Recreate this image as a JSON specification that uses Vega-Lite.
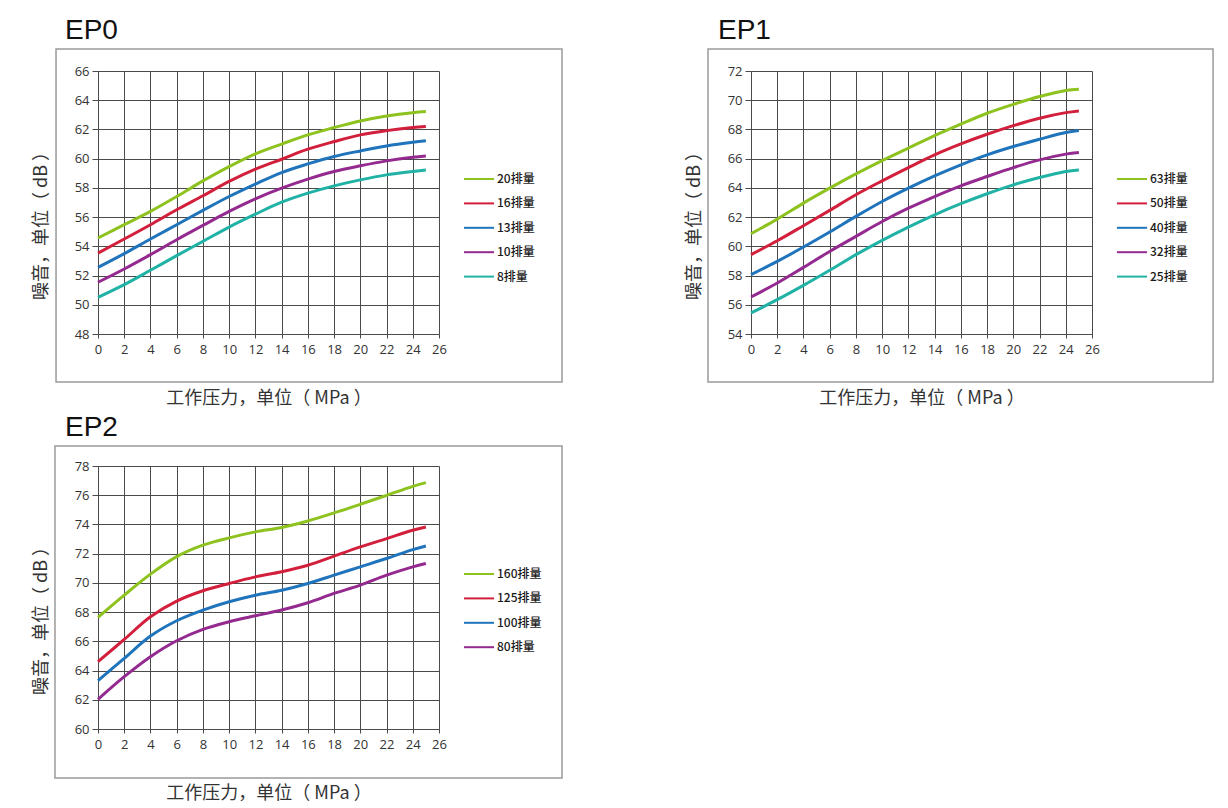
{
  "$schema": "https://vega.github.io/schema/vega-lite/v6.json",
  "autosize": {"type": "none"},
  "padding": {"left": 98, "top": 71, "right": 1130, "bottom": 737},
  "background": "white",
  "bounds": "flush",
  "columns": 2,
  "spacing": {"row": 132, "column": 312},
  "resolve": {"scale": {"color": "independent", "x": "independent", "y": "independent"}, "legend": {"color": "independent"}},
  "config": {
    "font": "Noto Sans CJK SC",
    "view": {"stroke": null},
    "title": {"font": "Liberation Sans", "fontSize": 28, "fontWeight": "normal", "color": "#111111", "anchor": "start", "frame": "group", "dx": -33, "offset": 3},
    "axis": {"grid": true, "gridColor": "#4a4a4a", "gridWidth": 1, "gridOpacity": 1, "domainColor": "#4a4a4a", "tickColor": "#4a4a4a", "labelFont": "Open Sans", "labelFontSize": 13, "labelColor": "#333333", "titleFont": "Noto Sans CJK SC", "titleFontSize": 18, "titleFontWeight": "normal", "titleColor": "#333333", "labelFlush": false, "labelOverlap": false}
  },
  "datasets": {
    "ep0": [
      {"pressure": 0, "noise": 54.57, "series": "20排量"}, {"pressure": 2, "noise": 55.48, "series": "20排量"}, {"pressure": 4, "noise": 56.39, "series": "20排量"}, {"pressure": 6, "noise": 57.41, "series": "20排量"}, {"pressure": 8, "noise": 58.48, "series": "20排量"}, {"pressure": 10, "noise": 59.46, "series": "20排量"}, {"pressure": 12, "noise": 60.33, "series": "20排量"}, {"pressure": 14, "noise": 61.0, "series": "20排量"}, {"pressure": 16, "noise": 61.63, "series": "20排量"}, {"pressure": 18, "noise": 62.13, "series": "20排量"}, {"pressure": 20, "noise": 62.58, "series": "20排量"}, {"pressure": 22, "noise": 62.92, "series": "20排量"}, {"pressure": 24, "noise": 63.15, "series": "20排量"}, {"pressure": 25, "noise": 63.22, "series": "20排量"},
      {"pressure": 0, "noise": 53.54, "series": "16排量"}, {"pressure": 2, "noise": 54.5, "series": "16排量"}, {"pressure": 4, "noise": 55.48, "series": "16排量"}, {"pressure": 6, "noise": 56.5, "series": "16排量"}, {"pressure": 8, "noise": 57.46, "series": "16排量"}, {"pressure": 10, "noise": 58.44, "series": "16排量"}, {"pressure": 12, "noise": 59.28, "series": "16排量"}, {"pressure": 14, "noise": 59.96, "series": "16排量"}, {"pressure": 16, "noise": 60.65, "series": "16排量"}, {"pressure": 18, "noise": 61.17, "series": "16排量"}, {"pressure": 20, "noise": 61.63, "series": "16排量"}, {"pressure": 22, "noise": 61.92, "series": "16排量"}, {"pressure": 24, "noise": 62.13, "series": "16排量"}, {"pressure": 25, "noise": 62.2, "series": "16排量"},
      {"pressure": 0, "noise": 52.56, "series": "13排量"}, {"pressure": 2, "noise": 53.5, "series": "13排量"}, {"pressure": 4, "noise": 54.5, "series": "13排量"}, {"pressure": 6, "noise": 55.48, "series": "13排量"}, {"pressure": 8, "noise": 56.46, "series": "13排量"}, {"pressure": 10, "noise": 57.41, "series": "13排量"}, {"pressure": 12, "noise": 58.26, "series": "13排量"}, {"pressure": 14, "noise": 59.05, "series": "13排量"}, {"pressure": 16, "noise": 59.64, "series": "13排量"}, {"pressure": 18, "noise": 60.15, "series": "13排量"}, {"pressure": 20, "noise": 60.53, "series": "13排量"}, {"pressure": 22, "noise": 60.87, "series": "13排量"}, {"pressure": 24, "noise": 61.12, "series": "13排量"}, {"pressure": 25, "noise": 61.22, "series": "13排量"},
      {"pressure": 0, "noise": 51.54, "series": "10排量"}, {"pressure": 2, "noise": 52.45, "series": "10排量"}, {"pressure": 4, "noise": 53.43, "series": "10排量"}, {"pressure": 6, "noise": 54.45, "series": "10排量"}, {"pressure": 8, "noise": 55.43, "series": "10排量"}, {"pressure": 10, "noise": 56.39, "series": "10排量"}, {"pressure": 12, "noise": 57.25, "series": "10排量"}, {"pressure": 14, "noise": 57.98, "series": "10排量"}, {"pressure": 16, "noise": 58.6, "series": "10排量"}, {"pressure": 18, "noise": 59.12, "series": "10排量"}, {"pressure": 20, "noise": 59.51, "series": "10排量"}, {"pressure": 22, "noise": 59.85, "series": "10排量"}, {"pressure": 24, "noise": 60.1, "series": "10排量"}, {"pressure": 25, "noise": 60.19, "series": "10排量"},
      {"pressure": 0, "noise": 50.51, "series": "8排量"}, {"pressure": 2, "noise": 51.38, "series": "8排量"}, {"pressure": 4, "noise": 52.36, "series": "8排量"}, {"pressure": 6, "noise": 53.36, "series": "8排量"}, {"pressure": 8, "noise": 54.34, "series": "8排量"}, {"pressure": 10, "noise": 55.32, "series": "8排量"}, {"pressure": 12, "noise": 56.2, "series": "8排量"}, {"pressure": 14, "noise": 57.02, "series": "8排量"}, {"pressure": 16, "noise": 57.64, "series": "8排量"}, {"pressure": 18, "noise": 58.14, "series": "8排量"}, {"pressure": 20, "noise": 58.55, "series": "8排量"}, {"pressure": 22, "noise": 58.89, "series": "8排量"}, {"pressure": 24, "noise": 59.12, "series": "8排量"}, {"pressure": 25, "noise": 59.23, "series": "8排量"}
    ],
    "ep1": [
      {"pressure": 0, "noise": 60.86, "series": "63排量"}, {"pressure": 2, "noise": 61.86, "series": "63排量"}, {"pressure": 4, "noise": 62.96, "series": "63排量"}, {"pressure": 6, "noise": 63.98, "series": "63排量"}, {"pressure": 8, "noise": 64.96, "series": "63排量"}, {"pressure": 10, "noise": 65.87, "series": "63排量"}, {"pressure": 12, "noise": 66.72, "series": "63排量"}, {"pressure": 14, "noise": 67.58, "series": "63排量"}, {"pressure": 16, "noise": 68.36, "series": "63排量"}, {"pressure": 18, "noise": 69.11, "series": "63排量"}, {"pressure": 20, "noise": 69.72, "series": "63排量"}, {"pressure": 22, "noise": 70.25, "series": "63排量"}, {"pressure": 24, "noise": 70.66, "series": "63排量"}, {"pressure": 25, "noise": 70.75, "series": "63排量"},
      {"pressure": 0, "noise": 59.43, "series": "50排量"}, {"pressure": 2, "noise": 60.38, "series": "50排量"}, {"pressure": 4, "noise": 61.41, "series": "50排量"}, {"pressure": 6, "noise": 62.46, "series": "50排量"}, {"pressure": 8, "noise": 63.53, "series": "50排量"}, {"pressure": 10, "noise": 64.48, "series": "50排量"}, {"pressure": 12, "noise": 65.39, "series": "50排量"}, {"pressure": 14, "noise": 66.26, "series": "50排量"}, {"pressure": 16, "noise": 67.01, "series": "50排量"}, {"pressure": 18, "noise": 67.67, "series": "50排量"}, {"pressure": 20, "noise": 68.26, "series": "50排量"}, {"pressure": 22, "noise": 68.77, "series": "50排量"}, {"pressure": 24, "noise": 69.15, "series": "50排量"}, {"pressure": 25, "noise": 69.27, "series": "50排量"},
      {"pressure": 0, "noise": 58.06, "series": "40排量"}, {"pressure": 2, "noise": 58.97, "series": "40排量"}, {"pressure": 4, "noise": 59.95, "series": "40排量"}, {"pressure": 6, "noise": 60.98, "series": "40排量"}, {"pressure": 8, "noise": 62.05, "series": "40排量"}, {"pressure": 10, "noise": 63.07, "series": "40排量"}, {"pressure": 12, "noise": 63.98, "series": "40排量"}, {"pressure": 14, "noise": 64.82, "series": "40排量"}, {"pressure": 16, "noise": 65.58, "series": "40排量"}, {"pressure": 18, "noise": 66.26, "series": "40排量"}, {"pressure": 20, "noise": 66.83, "series": "40排量"}, {"pressure": 22, "noise": 67.33, "series": "40排量"}, {"pressure": 24, "noise": 67.79, "series": "40排量"}, {"pressure": 25, "noise": 67.92, "series": "40排量"},
      {"pressure": 0, "noise": 56.53, "series": "32排量"}, {"pressure": 2, "noise": 57.49, "series": "32排量"}, {"pressure": 4, "noise": 58.56, "series": "32排量"}, {"pressure": 6, "noise": 59.65, "series": "32排量"}, {"pressure": 8, "noise": 60.68, "series": "32排量"}, {"pressure": 10, "noise": 61.7, "series": "32排量"}, {"pressure": 12, "noise": 62.61, "series": "32排量"}, {"pressure": 14, "noise": 63.41, "series": "32排量"}, {"pressure": 16, "noise": 64.14, "series": "32排量"}, {"pressure": 18, "noise": 64.78, "series": "32排量"}, {"pressure": 20, "noise": 65.39, "series": "32排量"}, {"pressure": 22, "noise": 65.92, "series": "32排量"}, {"pressure": 24, "noise": 66.31, "series": "32排量"}, {"pressure": 25, "noise": 66.42, "series": "32排量"},
      {"pressure": 0, "noise": 55.44, "series": "25排量"}, {"pressure": 2, "noise": 56.35, "series": "25排量"}, {"pressure": 4, "noise": 57.33, "series": "25排量"}, {"pressure": 6, "noise": 58.36, "series": "25排量"}, {"pressure": 8, "noise": 59.43, "series": "25排量"}, {"pressure": 10, "noise": 60.41, "series": "25排量"}, {"pressure": 12, "noise": 61.32, "series": "25排量"}, {"pressure": 14, "noise": 62.16, "series": "25排量"}, {"pressure": 16, "noise": 62.92, "series": "25排量"}, {"pressure": 18, "noise": 63.6, "series": "25排量"}, {"pressure": 20, "noise": 64.21, "series": "25排量"}, {"pressure": 22, "noise": 64.71, "series": "25排量"}, {"pressure": 24, "noise": 65.12, "series": "25排量"}, {"pressure": 25, "noise": 65.23, "series": "25排量"}
    ],
    "ep2": [
      {"pressure": 0, "noise": 67.64, "series": "160排量"}, {"pressure": 2, "noise": 69.16, "series": "160排量"}, {"pressure": 4, "noise": 70.6, "series": "160排量"}, {"pressure": 6, "noise": 71.8, "series": "160排量"}, {"pressure": 8, "noise": 72.58, "series": "160排量"}, {"pressure": 10, "noise": 73.08, "series": "160排量"}, {"pressure": 12, "noise": 73.49, "series": "160排量"}, {"pressure": 14, "noise": 73.79, "series": "160排量"}, {"pressure": 16, "noise": 74.24, "series": "160排量"}, {"pressure": 18, "noise": 74.79, "series": "160排量"}, {"pressure": 20, "noise": 75.38, "series": "160排量"}, {"pressure": 22, "noise": 75.99, "series": "160排量"}, {"pressure": 24, "noise": 76.61, "series": "160排量"}, {"pressure": 25, "noise": 76.86, "series": "160排量"},
      {"pressure": 0, "noise": 64.61, "series": "125排量"}, {"pressure": 2, "noise": 66.13, "series": "125排量"}, {"pressure": 4, "noise": 67.68, "series": "125排量"}, {"pressure": 6, "noise": 68.75, "series": "125排量"}, {"pressure": 8, "noise": 69.46, "series": "125排量"}, {"pressure": 10, "noise": 69.96, "series": "125排量"}, {"pressure": 12, "noise": 70.41, "series": "125排量"}, {"pressure": 14, "noise": 70.76, "series": "125排量"}, {"pressure": 16, "noise": 71.21, "series": "125排量"}, {"pressure": 18, "noise": 71.83, "series": "125排量"}, {"pressure": 20, "noise": 72.46, "series": "125排量"}, {"pressure": 22, "noise": 73.03, "series": "125排量"}, {"pressure": 24, "noise": 73.6, "series": "125排量"}, {"pressure": 25, "noise": 73.83, "series": "125排量"},
      {"pressure": 0, "noise": 63.31, "series": "100排量"}, {"pressure": 2, "noise": 64.83, "series": "100排量"}, {"pressure": 4, "noise": 66.36, "series": "100排量"}, {"pressure": 6, "noise": 67.41, "series": "100排量"}, {"pressure": 8, "noise": 68.14, "series": "100排量"}, {"pressure": 10, "noise": 68.71, "series": "100排量"}, {"pressure": 12, "noise": 69.16, "series": "100排量"}, {"pressure": 14, "noise": 69.5, "series": "100排量"}, {"pressure": 16, "noise": 69.96, "series": "100排量"}, {"pressure": 18, "noise": 70.53, "series": "100排量"}, {"pressure": 20, "noise": 71.1, "series": "100排量"}, {"pressure": 22, "noise": 71.67, "series": "100排量"}, {"pressure": 24, "noise": 72.28, "series": "100排量"}, {"pressure": 25, "noise": 72.53, "series": "100排量"},
      {"pressure": 0, "noise": 62.03, "series": "80排量"}, {"pressure": 2, "noise": 63.58, "series": "80排量"}, {"pressure": 4, "noise": 64.95, "series": "80排量"}, {"pressure": 6, "noise": 66.04, "series": "80排量"}, {"pressure": 8, "noise": 66.82, "series": "80排量"}, {"pressure": 10, "noise": 67.34, "series": "80排量"}, {"pressure": 12, "noise": 67.75, "series": "80排量"}, {"pressure": 14, "noise": 68.14, "series": "80排量"}, {"pressure": 16, "noise": 68.64, "series": "80排量"}, {"pressure": 18, "noise": 69.28, "series": "80排量"}, {"pressure": 20, "noise": 69.85, "series": "80排量"}, {"pressure": 22, "noise": 70.53, "series": "80排量"}, {"pressure": 24, "noise": 71.1, "series": "80排量"}, {"pressure": 25, "noise": 71.33, "series": "80排量"}
    ]
  },
  "concat": [
    {
      "title": {"text": "EP0"},
      "width": 341, "height": 263,
      "layer": [
        {
          "data": {"values": [{"frame": "box"}]},
          "mark": {"type": "rect", "filled": false, "stroke": "#9a9a9a", "strokeWidth": 1.5, "clip": false},
          "encoding": {
            "x": {"datum": -3.2, "type": "quantitative", "scale": {"domain": [0, 26], "nice": false, "zero": false}, "axis": {"title": "工作压力，单位（ MPa ）", "values": [0,2,4,6,8,10,12,14,16,18,20,22,24,26], "tickSize": 4, "labelPadding": 5, "titleY": 55}},
            "x2": {"datum": 35.38},
            "y": {"datum": 67.5, "type": "quantitative", "scale": {"domain": [48, 66], "nice": false, "zero": false}, "axis": {"title": "噪音，单位（ dB ）", "values": [48,50,52,54,56,58,60,62,64,66], "tickSize": 6, "labelPadding": 3, "titleX": -48, "titleY": 150}},
            "y2": {"datum": 44.71}
          }
        },
        {
          "data": {"name": "ep0"},
          "mark": {"type": "line", "strokeWidth": 3, "interpolate": "catmull-rom"},
          "encoding": {
            "x": {"field": "pressure", "type": "quantitative", "scale": {"domain": [0, 26], "nice": false, "zero": false}, "axis": {"title": "工作压力，单位（ MPa ）", "values": [0,2,4,6,8,10,12,14,16,18,20,22,24,26], "tickSize": 4, "labelPadding": 5, "titleY": 55}},
            "y": {"field": "noise", "type": "quantitative", "scale": {"domain": [48, 66], "nice": false, "zero": false}, "axis": {"title": "噪音，单位（ dB ）", "values": [48,50,52,54,56,58,60,62,64,66], "tickSize": 6, "labelPadding": 3, "titleX": -48, "titleY": 150}},
            "color": {"field": "series", "type": "nominal", "sort": null,
              "scale": {"domain": ["20排量", "16排量", "13排量", "10排量", "8排量"], "range": ["#8dc21f", "#d21f3c", "#1f74bb", "#942a8f", "#21b2a6"]},
              "legend": {"title": null, "orient": "none", "legendX": 369, "legendY": 96, "padding": 0, "symbolType": "M-1.4,0H1.4", "symbolSize": 462, "symbolStrokeWidth": 2, "labelFont": "Noto Sans CJK SC", "labelFontSize": 12, "labelFontWeight": 500, "labelColor": "#1a1a1a", "labelOffset": 6, "rowPadding": 6.4}}
          }
        }
      ]
    },
    {
      "title": {"text": "EP1"},
      "width": 341, "height": 263,
      "layer": [
        {
          "data": {"values": [{"frame": "box"}]},
          "mark": {"type": "rect", "filled": false, "stroke": "#9a9a9a", "strokeWidth": 1.5, "clip": false},
          "encoding": {
            "x": {"datum": -3.28, "type": "quantitative", "scale": {"domain": [0, 26], "nice": false, "zero": false}, "axis": {"title": "工作压力，单位（ MPa ）", "values": [0,2,4,6,8,10,12,14,16,18,20,22,24,26], "tickSize": 4, "labelPadding": 5, "titleY": 55}},
            "x2": {"datum": 35.23},
            "y": {"datum": 73.5, "type": "quantitative", "scale": {"domain": [54, 72], "nice": false, "zero": false}, "axis": {"title": "噪音，单位（ dB ）", "values": [54,56,58,60,62,64,66,68,70,72], "tickSize": 6, "labelPadding": 3, "titleX": -48, "titleY": 150}},
            "y2": {"datum": 50.71}
          }
        },
        {
          "data": {"name": "ep1"},
          "mark": {"type": "line", "strokeWidth": 3, "interpolate": "catmull-rom"},
          "encoding": {
            "x": {"field": "pressure", "type": "quantitative", "scale": {"domain": [0, 26], "nice": false, "zero": false}, "axis": {"title": "工作压力，单位（ MPa ）", "values": [0,2,4,6,8,10,12,14,16,18,20,22,24,26], "tickSize": 4, "labelPadding": 5, "titleY": 55}},
            "y": {"field": "noise", "type": "quantitative", "scale": {"domain": [54, 72], "nice": false, "zero": false}, "axis": {"title": "噪音，单位（ dB ）", "values": [54,56,58,60,62,64,66,68,70,72], "tickSize": 6, "labelPadding": 3, "titleX": -48, "titleY": 150}},
            "color": {"field": "series", "type": "nominal", "sort": null,
              "scale": {"domain": ["63排量", "50排量", "40排量", "32排量", "25排量"], "range": ["#8dc21f", "#d21f3c", "#1f74bb", "#942a8f", "#21b2a6"]},
              "legend": {"title": null, "orient": "none", "legendX": 369, "legendY": 96, "padding": 0, "symbolType": "M-1.4,0H1.4", "symbolSize": 462, "symbolStrokeWidth": 2, "labelFont": "Noto Sans CJK SC", "labelFontSize": 12, "labelFontWeight": 500, "labelColor": "#1a1a1a", "labelOffset": 6, "rowPadding": 6.4}}
          }
        }
      ]
    },
    {
      "title": {"text": "EP2"},
      "width": 341, "height": 263,
      "layer": [
        {
          "data": {"values": [{"frame": "box"}]},
          "mark": {"type": "rect", "filled": false, "stroke": "#9a9a9a", "strokeWidth": 1.5, "clip": false},
          "encoding": {
            "x": {"datum": -3.28, "type": "quantitative", "scale": {"domain": [0, 26], "nice": false, "zero": false}, "axis": {"title": "工作压力，单位（ MPa ）", "values": [0,2,4,6,8,10,12,14,16,18,20,22,24,26], "tickSize": 4, "labelPadding": 5, "titleY": 55}},
            "x2": {"datum": 35.38},
            "y": {"datum": 79.37, "type": "quantitative", "scale": {"domain": [60, 78], "nice": false, "zero": false}, "axis": {"title": "噪音，单位（ dB ）", "values": [60,62,64,66,68,70,72,74,76,78], "tickSize": 6, "labelPadding": 3, "titleX": -48, "titleY": 150}},
            "y2": {"datum": 56.65}
          }
        },
        {
          "data": {"name": "ep2"},
          "mark": {"type": "line", "strokeWidth": 3, "interpolate": "catmull-rom"},
          "encoding": {
            "x": {"field": "pressure", "type": "quantitative", "scale": {"domain": [0, 26], "nice": false, "zero": false}, "axis": {"title": "工作压力，单位（ MPa ）", "values": [0,2,4,6,8,10,12,14,16,18,20,22,24,26], "tickSize": 4, "labelPadding": 5, "titleY": 55}},
            "y": {"field": "noise", "type": "quantitative", "scale": {"domain": [60, 78], "nice": false, "zero": false}, "axis": {"title": "噪音，单位（ dB ）", "values": [60,62,64,66,68,70,72,74,76,78], "tickSize": 6, "labelPadding": 3, "titleX": -48, "titleY": 150}},
            "color": {"field": "series", "type": "nominal", "sort": null,
              "scale": {"domain": ["160排量", "125排量", "100排量", "80排量"], "range": ["#8dc21f", "#d21f3c", "#1f74bb", "#942a8f"]},
              "legend": {"title": null, "orient": "none", "legendX": 369, "legendY": 96, "padding": 0, "symbolType": "M-1.4,0H1.4", "symbolSize": 462, "symbolStrokeWidth": 2, "labelFont": "Noto Sans CJK SC", "labelFontSize": 12, "labelFontWeight": 500, "labelColor": "#1a1a1a", "labelOffset": 6, "rowPadding": 6.4}}
          }
        }
      ]
    }
  ]
}
